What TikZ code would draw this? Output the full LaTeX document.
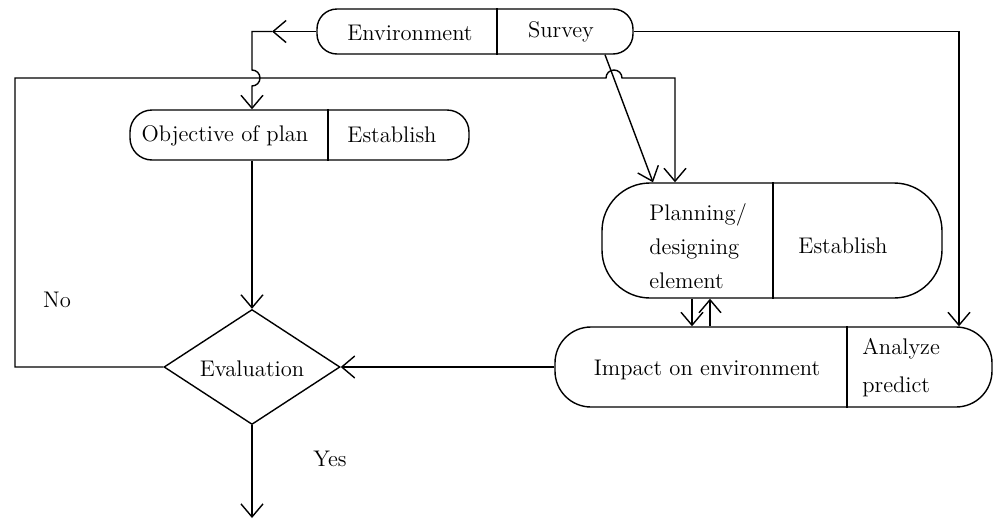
\documentclass[tikz,border=0pt]{standalone}
\usetikzlibrary{arrows.meta,shapes.geometric}
\begin{document}
\begin{tikzpicture}[x=0.5pt,y=-0.5pt,
  ln/.style={line width=0.7pt},
  box/.style={draw, ln, rounded corners=#1, inner sep=0pt},
  lbl/.style={font=\fontsize{11.3}{14}\selectfont, inner sep=0pt},
  arr/.style={ln, -{Straight Barb[length=6.5pt,width=11pt]}},
]
\useasboundingbox (0,0) rectangle (993,520);

% boxes
\node[box=10pt, minimum width=158pt, minimum height=22.5pt] (env) at (475,31.5) {};
\node[box=11pt, minimum width=169.5pt, minimum height=25pt] (obj) at (299.5,135) {};
\node[box=24pt, minimum width=170pt, minimum height=57.5pt] (plan) at (772,240.5) {};
\node[box=18pt, minimum width=218.5pt, minimum height=40pt] (imp) at (773.5,367) {};
\node[draw, ln, diamond, aspect=1.53, minimum width=88pt, minimum height=57.5pt, inner sep=0pt] (eval) at (252,367) {};

% dividers inside the boxes
\coordinate (dEnv) at (497,0);
\coordinate (dObj) at (328,0);
\coordinate (dPlan) at (773,0);
\coordinate (dImp) at (847,0);
\draw[ln] (env.north -| dEnv) -- (env.south -| dEnv);
\draw[ln] (obj.north -| dObj) -- (obj.south -| dObj);
\draw[ln] (plan.north -| dPlan) -- (plan.south -| dPlan);
\draw[ln] (imp.north -| dImp) -- (imp.south -| dImp);

% texts
\node[lbl] (tEnv) at (410,33) {Environment};
\node[lbl] (tSurvey) at (561,32) {Survey};
\node[lbl] (tObj) at (225,136) {Objective of plan};
\node[lbl] (tObjE) at (392,135) {Establish};
\node[lbl, align=left, anchor=west, font=\fontsize{11.3}{17}\selectfont] (tPlan) at (649,246) {Planning/\\designing\\element};
\node[lbl] (tPlanE) at (843,246) {Establish};
\node[lbl] (tImp) at (707,370) {Impact on environment};
\node[lbl, align=left, anchor=west, font=\fontsize{11.3}{19}\selectfont] (tImpA) at (862,368) {Analyze\\predict};
\node[lbl] (tEval) at (252,369) {Evaluation};
\node[lbl] (tNo) at (57,300) {No};
\node[lbl] (tYes) at (330,459) {Yes};

% survey -> objective (arrow midway, hop over the feedback line)
\coordinate (tipL) at (272,31.5);
\coordinate (colA) at (252,0);
\coordinate (hopA) at (252,70);
\draw[arr] (env.west) -- (tipL);
\draw[arr] (tipL) -- (tipL -| colA) -- (hopA)
  arc[start angle=90, end angle=-90, radius=4pt] -- (obj.north -| colA);

% objective -> evaluation -> out
\coordinate (out) at (252,518);
\draw[arr] (obj.south -| colA) -- (eval.north);
\draw[arr] (eval.south) -- (out);

% feedback loop "No"
\coordinate (cL) at (15,78);
\coordinate (hopB) at (606,78);
\coordinate (cR) at (675,78);
\draw[arr] (eval.west) -- (eval.west -| cL) -- (cL) -- (hopB)
  arc[start angle=180, end angle=0, radius=4pt] -- (cR) -- (plan.north -| cR);

% survey -> planning
\coordinate (sA) at (605,0);
\coordinate (sB) at (653,0);
\draw[arr] (env.south -| sA) -- (plan.north -| sB);

% survey -> impact
\coordinate (cRR) at (959,0);
\draw[arr] (env.east) -- (env.east -| cRR) -- (imp.north -| cRR);

% planning <-> impact
\coordinate (cD) at (692,0);
\coordinate (cU) at (710,0);
\draw[arr] (plan.south -| cD) -- (imp.north -| cD);
\draw[arr] (imp.north -| cU) -- (plan.south -| cU);

% impact -> evaluation
\draw[arr] (imp.west) -- (imp.west -| eval.east);
\end{tikzpicture}
\end{document}
